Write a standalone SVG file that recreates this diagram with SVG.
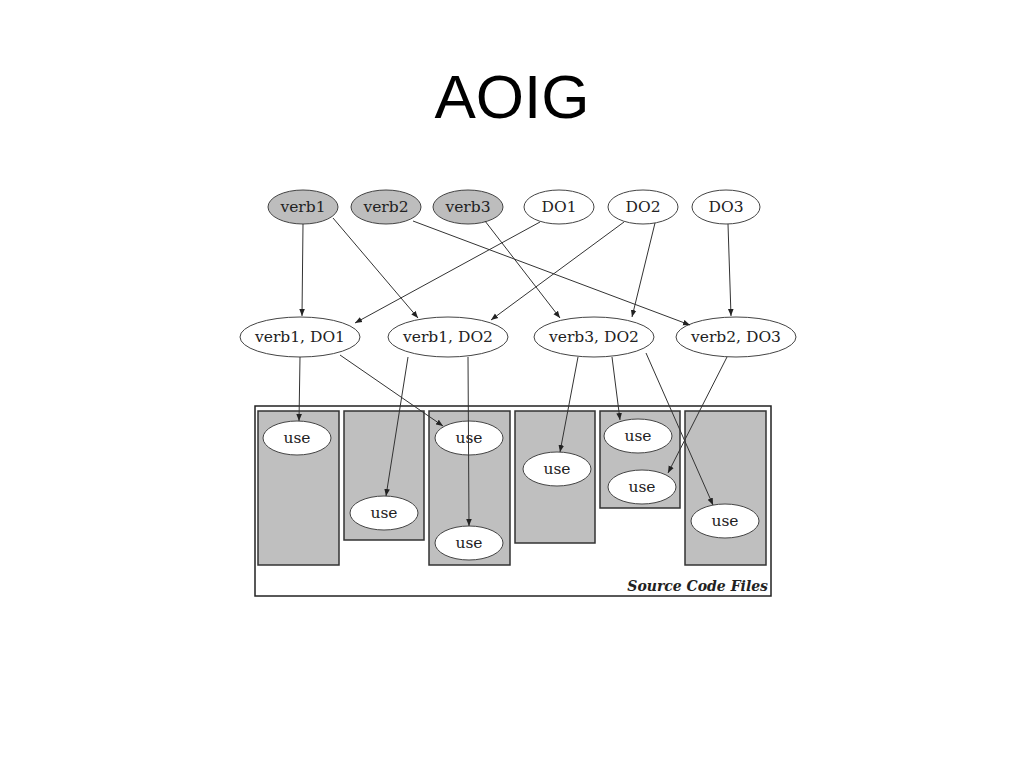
<svg xmlns="http://www.w3.org/2000/svg" width="1024" height="768" viewBox="0 0 1024 768">
<defs>
<marker id="ah" viewBox="0 0 10 10" refX="10" refY="5" markerWidth="7" markerHeight="7" orient="auto" markerUnits="userSpaceOnUse"><path d="M0,1 L10,5 L0,9 z" fill="#222"/></marker>
<style>
.n{fill:#fff;stroke:#444;stroke-width:1}
.g{fill:#bdbdbd;stroke:#444;stroke-width:1}
.box{fill:#bfbfbf;stroke:#333;stroke-width:1.5}
.t{font-family:"DejaVu Serif","Liberation Serif",serif;font-size:15.5px;fill:#222;text-anchor:middle;dominant-baseline:central}
.e{stroke:#333;stroke-width:1;fill:none;marker-end:url(#ah)}
</style>
</defs>
<rect width="1024" height="768" fill="#fff"/>
<text x="512" y="118" font-family="'Liberation Sans',Arial,sans-serif" font-size="62" text-anchor="middle" fill="#000">AOIG</text>
<g id="files">
<rect x="255" y="406" width="516" height="190" fill="#fff" stroke="#222" stroke-width="1.5"/>
<rect class="box" x="258" y="411" width="81" height="154"/>
<rect class="box" x="344" y="411" width="80" height="129"/>
<rect class="box" x="429" y="411" width="81" height="154"/>
<rect class="box" x="515" y="411" width="80" height="132"/>
<rect class="box" x="600" y="411" width="80" height="97"/>
<rect class="box" x="685" y="411" width="81" height="154"/>
<text x="768" y="591" font-family="'DejaVu Serif','Liberation Serif',serif" font-style="italic" font-weight="bold" font-size="14" text-anchor="end" fill="#222">Source Code Files</text>
</g>
<g id="verb1"><ellipse class="g" cx="303" cy="207" rx="35" ry="17"/><text class="t" x="303" y="207">verb1</text></g>
<g id="verb2"><ellipse class="g" cx="386" cy="207" rx="35" ry="17"/><text class="t" x="386" y="207">verb2</text></g>
<g id="verb3"><ellipse class="g" cx="468" cy="207" rx="35" ry="17"/><text class="t" x="468" y="207">verb3</text></g>
<g id="DO1"><ellipse class="n" cx="559" cy="207" rx="35" ry="17"/><text class="t" x="559" y="207">DO1</text></g>
<g id="DO2"><ellipse class="n" cx="643" cy="207" rx="35" ry="17"/><text class="t" x="643" y="207">DO2</text></g>
<g id="DO3"><ellipse class="n" cx="726" cy="207" rx="34" ry="17"/><text class="t" x="726" y="207">DO3</text></g>
<g id="v1d1"><ellipse class="n" cx="300" cy="337" rx="60" ry="20"/><text class="t" x="300" y="337">verb1, DO1</text></g>
<g id="v1d2"><ellipse class="n" cx="448" cy="337" rx="60" ry="20"/><text class="t" x="448" y="337">verb1, DO2</text></g>
<g id="v3d2"><ellipse class="n" cx="594" cy="337" rx="60" ry="20"/><text class="t" x="594" y="337">verb3, DO2</text></g>
<g id="v2d3"><ellipse class="n" cx="736" cy="337" rx="60" ry="20"/><text class="t" x="736" y="337">verb2, DO3</text></g>
<g id="u1"><ellipse class="n" cx="297" cy="438" rx="34" ry="17"/><text class="t" x="297" y="438">use</text></g>
<g id="u2"><ellipse class="n" cx="384" cy="513" rx="34" ry="17"/><text class="t" x="384" y="513">use</text></g>
<g id="u3"><ellipse class="n" cx="469" cy="438" rx="34" ry="17"/><text class="t" x="469" y="438">use</text></g>
<g id="u4"><ellipse class="n" cx="469" cy="543" rx="34" ry="17"/><text class="t" x="469" y="543">use</text></g>
<g id="u5"><ellipse class="n" cx="557" cy="469" rx="34" ry="17"/><text class="t" x="557" y="469">use</text></g>
<g id="u6"><ellipse class="n" cx="638" cy="436" rx="34" ry="17"/><text class="t" x="638" y="436">use</text></g>
<g id="u7"><ellipse class="n" cx="642" cy="487" rx="34" ry="17"/><text class="t" x="642" y="487">use</text></g>
<g id="u8"><ellipse class="n" cx="725" cy="521" rx="34" ry="17"/><text class="t" x="725" y="521">use</text></g>
<g id="edges">
<line class="e" x1="303" y1="224" x2="302" y2="316"/>
<line class="e" x1="333" y1="218" x2="418" y2="318"/>
<line class="e" x1="413" y1="221" x2="690" y2="325"/>
<line class="e" x1="485" y1="221" x2="560" y2="318"/>
<line class="e" x1="540" y1="222" x2="355" y2="323"/>
<line class="e" x1="624" y1="222" x2="491" y2="320"/>
<line class="e" x1="655" y1="223" x2="632" y2="317"/>
<line class="e" x1="728" y1="224" x2="731" y2="316"/>
<line class="e" x1="300" y1="357" x2="299" y2="421"/>
<line class="e" x1="340" y1="355" x2="443" y2="426"/>
<line class="e" x1="408" y1="357" x2="386" y2="496"/>
<line class="e" x1="468" y1="357" x2="469" y2="526"/>
<line class="e" x1="578" y1="357" x2="560" y2="452"/>
<line class="e" x1="612" y1="357" x2="620" y2="420"/>
<line class="e" x1="646" y1="353" x2="713" y2="505"/>
<line class="e" x1="727" y1="357" x2="668" y2="473"/>
</g>
</svg>
